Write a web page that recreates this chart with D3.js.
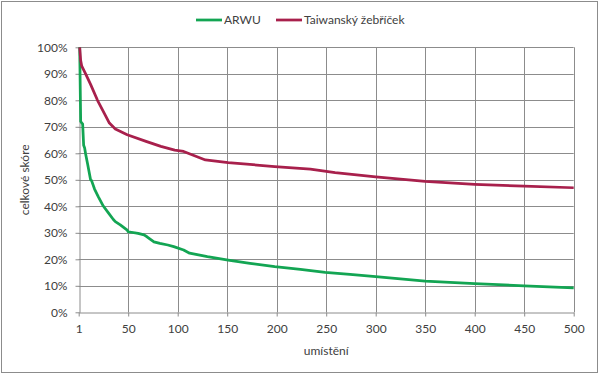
<!DOCTYPE html>
<html><head><meta charset="utf-8">
<script src="https://cdn.jsdelivr.net/npm/d3@7"></script>
<style>body{margin:0;background:#fff}svg{display:block}text{font-family:Lato,"Open Sans",sans-serif;fill:#404040}</style>
</head><body><svg id="c" width="601" height="376"></svg>
<script>
const seriesNames = ["ARWU", "Taiwanský žebříček"];
const arwuRanks = [1,2,4,5,6,7,9,12,13,16,20,25,30,35,37,42,49,50,60,66,69,76,82,90,96,106,112,130,151,173,198,224,249,274,300,350,400,450,500];
const arwuValues = [100,72,71,63,62,59.7,56,50,49.7,46.5,43.5,40,37.5,35,34.2,33,31,30.4,29.8,29.2,28.5,26.6,26,25.4,24.8,23.5,22.3,21,19.7,18.5,17.2,16.2,15.1,14.3,13.5,11.8,10.8,10,9.2];
const taiwanRanks = [1,2,3,7,12,19,26,31,37,49,68,83,97,106,128,151,198,234,259,300,350,400,450,500];
const taiwanValues = [100,95,93,90,86,80,75,71.4,69.2,67,64.5,62.6,61.2,60.7,57.5,56.5,55,54,52.7,51.1,49.4,48.3,47.6,47];
const xTickValues = [0,50,100,150,200,250,300,350,400,450,500];
const xTickLabels = ["1","50","100","150","200","250","300","350","400","450","500"];
const yTickValues = [0,10,20,30,40,50,60,70,80,90,100];
const colors = ["#13a553", "#a8204c"];

(function(){
const svg = d3.select("#c");
const pL = 78.7, pR = 573.7, pT = 47.3, pB = 312.3;
const x = d3.scaleLinear().domain([0,500]).range([pL,pR]);
const y = d3.scaleLinear().domain([0,100]).range([pB,pT]);
const grid = "#8c8c8c";
const fs = 12;

svg.append("rect").attr("x",1.5).attr("y",1.5).attr("width",596).attr("height",371)
  .attr("fill","#fff").attr("stroke",grid).attr("stroke-width",1);

// gridlines
svg.append("g").selectAll("line").data(yTickValues.slice(1)).join("line")
  .attr("x1",pL).attr("x2",pR).attr("y1",d=>Math.round(y(d))+0.5).attr("y2",d=>Math.round(y(d))+0.5)
  .attr("stroke",grid).attr("stroke-width",1);
svg.append("g").selectAll("line").data(xTickValues.slice(1)).join("line")
  .attr("y1",pT).attr("y2",pB).attr("x1",d=>Math.round(x(d))+0.5).attr("x2",d=>Math.round(x(d))+0.5)
  .attr("stroke",grid).attr("stroke-width",1);

// axes
const xAxis = d3.axisBottom(x).tickValues(xTickValues).tickFormat((d,i)=>xTickLabels[i]).tickSize(4).tickPadding(8).tickSizeOuter(0);
const gx = svg.append("g").attr("transform",`translate(0,${Math.round(pB)+0.5})`).call(xAxis);
gx.select(".domain").attr("stroke",grid);
gx.selectAll(".tick line").attr("stroke",grid);
gx.selectAll("text").attr("font-size",fs).attr("fill","#404040").attr("font-family","Lato");

const yAxis = d3.axisLeft(y).tickValues(yTickValues).tickFormat(d=>d+"%").tickSize(4).tickPadding(8).tickSizeOuter(0);
const gy = svg.append("g").attr("transform",`translate(${Math.round(pL)+0.5},0)`).call(yAxis);
gy.select(".domain").attr("stroke",grid);
gy.selectAll(".tick line").attr("stroke",grid);
gy.selectAll("text").attr("font-size",fs).attr("fill","#404040").attr("font-family","Lato");

// lines
const line = d3.line().x(d=>x(d[0])).y(d=>y(d[1]));
const data = [d3.zip(arwuRanks, arwuValues), d3.zip(taiwanRanks, taiwanValues)];
data.forEach((dd,i)=>{
  svg.append("path").datum(dd).attr("d",line).attr("fill","none")
    .attr("stroke",colors[i]).attr("stroke-width",2.75).attr("stroke-linejoin","round");
});

// axis titles
svg.append("text").attr("x",(pL+pR)/2).attr("y",355).attr("text-anchor","middle").attr("font-size",fs).text("umístění");
svg.append("text").attr("transform",`translate(29,${(pT+pB)/2}) rotate(-90)`).attr("text-anchor","middle").attr("font-size",fs).text("celkové skóre");

// legend
const legX = [196, 276];
seriesNames.forEach((n,i)=>{
  svg.append("line").attr("x1",legX[i]).attr("x2",legX[i]+26).attr("y1",20).attr("y2",20)
    .attr("stroke",colors[i]).attr("stroke-width",2.75);
  svg.append("text").attr("x",legX[i]+28).attr("y",24).attr("font-size",fs).text(n);
});
})();
</script></body></html>
